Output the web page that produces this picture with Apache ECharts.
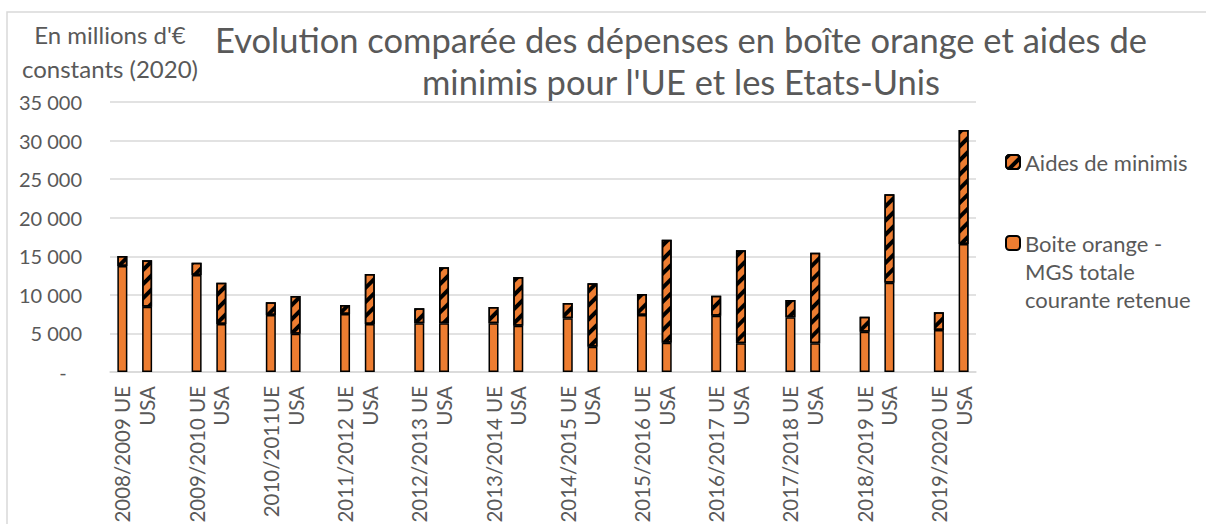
<!DOCTYPE html>
<html>
<head>
<meta charset="utf-8">
<script src="https://cdn.jsdelivr.net/npm/echarts@6/dist/echarts.min.js"></script>
<style>
  html, body { margin: 0; padding: 0; background: #fff; }
  #container { width: 1206px; height: 524px; }
</style>
</head>
<body>
<div id="container"></div>
<script>
// campagnes
var annees = ['2008/2009', '2009/2010', '2010/2011', '2011/2012', '2012/2013', '2013/2014',
              '2014/2015', '2015/2016', '2016/2017', '2017/2018', '2018/2019', '2019/2020'];
// boite orange (MGS totale courante retenue), millions d'€ 2020
var boiteUE  = [13750, 12570, 7390, 7520, 6310, 6310, 6960, 7390, 7300, 7090, 5230, 5440];
var boiteUSA = [8450, 6220, 4970, 6220, 6310, 6010, 3280, 3800, 3720, 3720, 11580, 16590];
// aides de minimis
var aidesUE  = [1290, 1600, 1640, 1170, 1940, 2120, 1980, 2720, 2600, 2240, 1940, 2290];
var aidesUSA = [6030, 5360, 4880, 6480, 7260, 6300, 8210, 13350, 12050, 11750, 11450, 14780];

var orange = '#ED7D31';
var gris = '#595959';
var police = 'Lato, "Open Sans", sans-serif';
var nomBoite = 'Boite orange -\nMGS totale\ncourante retenue';

// categories : UE, USA, vide entre chaque campagne
var categories = [];
var serieBoite = [];
var serieAides = [];
for (var i = 0; i < annees.length; i++) {
    categories.push(annees[i] == '2010/2011' ? annees[i] + 'UE' : annees[i] + ' UE');
    categories.push('USA');
    serieBoite.push(boiteUE[i], boiteUSA[i]);
    serieAides.push(aidesUE[i], aidesUSA[i]);
    if (i < annees.length - 1) {
        categories.push('');
        serieBoite.push('-');
        serieAides.push('-');
    }
}

var hachures = {
    symbol: 'rect',
    color: '#000',
    dashArrayX: [1, 0],
    dashArrayY: [4, 6],
    rotation: -Math.PI / 4
};

var dom = document.getElementById('container');
var myChart = echarts.init(dom, null, {renderer: 'svg'});
var option = {
    backgroundColor: '#fff',
    animation: false,
    title: [
        {
            text: "Evolution comparée des dépenses en boîte orange et aides de\nminimis pour l'UE et les Etats-Unis",
            left: 676,
            top: 13,
            textAlign: 'center',
            textStyle: {fontFamily: police, fontWeight: 'normal', fontSize: 34.5, lineHeight: 42, color: gris}
        },
        {
            text: "En millions d'€\nconstants (2020)",
            left: 105,
            top: 12,
            textAlign: 'center',
            textStyle: {fontFamily: police, fontWeight: 'normal', fontSize: 24, lineHeight: 34, color: gris}
        }
    ],
    graphic: [{
        type: 'rect',
        shape: {x: 7, y: 12, width: 1400, height: 700},
        style: {fill: 'none', stroke: '#d9d9d9', lineWidth: 1.5},
        silent: true
    }],
    legend: [
        {
            orient: 'vertical',
            left: 1000,
            top: 143,
            itemWidth: 14,
            itemHeight: 14,
            itemGap: 0,
            textStyle: {fontFamily: police, fontSize: 22, lineHeight: 28, color: gris},
            data: ['Aides de minimis']
        },
        {
            orient: 'vertical',
            left: 1000,
            top: 168,
            itemWidth: 14,
            itemHeight: 14,
            itemGap: 0,
            textStyle: {fontFamily: police, fontSize: 22, lineHeight: 28, color: gris},
            formatter: function (name) {
                // deux lignes vides devant : le carré reste sur la première ligne
                return '\n\n' + name;
            },
            data: [nomBoite]
        }
    ],
    grid: {left: 110, right: 230, top: 102, bottom: 152, outerBoundsMode: 'none'},
    xAxis: {
        type: 'category',
        data: categories,
        axisLine: {lineStyle: {color: '#d9d9d9', width: 1.5}},
        axisTick: {show: false},
        axisLabel: {
            interval: 0,
            rotate: 90,
            margin: 14,
            fontFamily: police,
            fontSize: 20.5,
            color: gris
        }
    },
    yAxis: {
        type: 'value',
        min: 0,
        max: 35000,
        interval: 5000,
        axisLine: {show: false},
        axisTick: {show: false},
        splitLine: {lineStyle: {color: '#d9d9d9', width: 1.5}},
        axisLabel: {
            margin: 28,
            fontFamily: police,
            fontSize: 20,
            color: gris,
            formatter: function (v) {
                if (v === 0) return '-   ';
                return String(v).replace(/\B(?=(\d{3})+(?!\d))/g, ' ');
            }
        }
    },
    series: [
        {
            name: nomBoite,
            type: 'bar',
            stack: 'total',
            barWidth: 10,
            itemStyle: {color: orange, borderColor: '#000', borderWidth: 1.5},
            data: serieBoite
        },
        {
            name: 'Aides de minimis',
            type: 'bar',
            stack: 'total',
            barWidth: 10,
            itemStyle: {color: orange, borderColor: '#000', borderWidth: 1.5, decal: hachures},
            data: serieAides
        }
    ]
};
if (option && typeof option === 'object') {
    myChart.setOption(option, true);
}
</script>
</body>
</html>
